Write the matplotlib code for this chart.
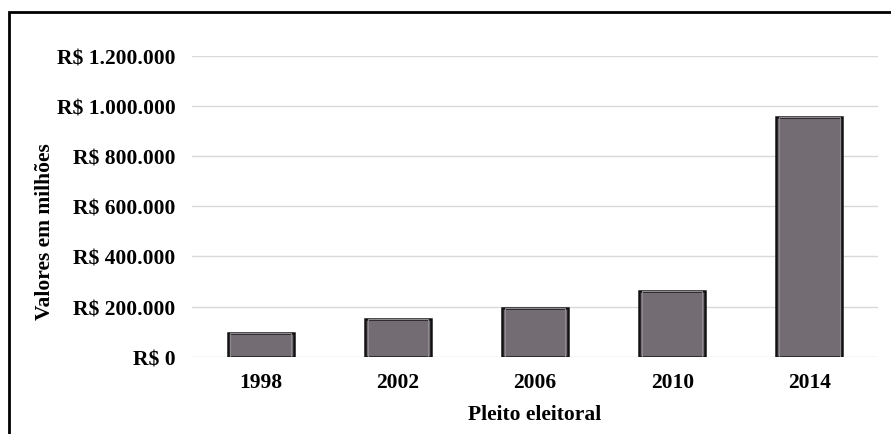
import matplotlib.pyplot as plt
from matplotlib.patches import Rectangle
from matplotlib.ticker import FuncFormatter

anos = ["1998", "2002", "2006", "2010", "2014"]
valores = [94000, 152000, 194000, 263000, 956000]
yticks = [0, 200000, 400000, 600000, 800000, 1000000, 1200000]

plt.rcParams['font.family'] = ['Liberation Serif', 'DejaVu Serif']
plt.rcParams['font.weight'] = 'bold'


def reais(v, pos):
    return "R$ " + "{:,.0f}".format(v).replace(",", ".")


fig = plt.figure(figsize=(8.91, 4.35), dpi=100)
ax = fig.add_axes([0.2155, 0.1777, 0.7699, 0.6920])

x = range(len(anos))
ax.bar(x, valores, width=0.48, color="#736c73", edgecolor="#111111",
       linewidth=1.8, zorder=3)
# inner highlight for the bevelled look
ax.bar(x, valores, width=0.44, color="none", edgecolor="#8f8a90",
       linewidth=0.8, zorder=4)

ax.set_xlim(-0.5, len(anos) - 0.5)
ax.set_ylim(0, 1200000)
ax.set_yticks(yticks)
ax.yaxis.set_major_formatter(FuncFormatter(reais))
ax.set_xticks(list(x))
ax.set_xticklabels(anos)
ax.grid(axis="y", color="#d9d9d9", linewidth=1.0, zorder=0)
ax.set_axisbelow(True)
for s in ax.spines.values():
    s.set_visible(False)
ax.tick_params(length=0, labelsize=15.5, pad=12)
ax.tick_params(axis="x", pad=11)

ax.set_xlabel("Pleito eleitoral", fontsize=15.5, fontweight="bold", labelpad=9)
ax.set_ylabel("Valores em milhões", fontsize=15.5, fontweight="bold", labelpad=1)
ax.yaxis.label.set_y(0.42)

# frame around the chart area
fig.patches.append(Rectangle((9 / 891, -0.1), 2.0, 1 - 13 / 435 + 0.1,
                             transform=fig.transFigure, fill=False,
                             edgecolor="black", linewidth=2.0))

fig.savefig("out.png", dpi=100)
